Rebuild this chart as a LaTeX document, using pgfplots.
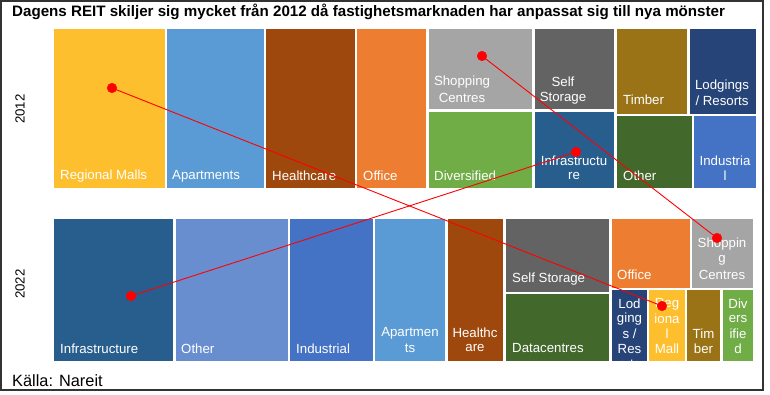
\documentclass[border=0pt]{standalone}
\usepackage{pgfplots}
\pgfplotsset{compat=1.18}
\usepackage{fontspec}
\setmainfont{Liberation Sans}
\definecolor{cGold}{HTML}{FDBF2D}
\definecolor{cApt}{HTML}{5B9BD5}
\definecolor{cHealth}{HTML}{9E480E}
\definecolor{cOffice}{HTML}{ED7D31}
\definecolor{cShop}{HTML}{A5A5A5}
\definecolor{cSelf}{HTML}{636363}
\definecolor{cDiv}{HTML}{70AD47}
\definecolor{cInfra}{HTML}{285E8E}
\definecolor{cTimber}{HTML}{997316}
\definecolor{cLodg}{HTML}{264478}
\definecolor{cOther}{HTML}{43682B}
\definecolor{cInd}{HTML}{4472C4}
\definecolor{cOther2}{HTML}{698ED0}
\newcommand{\boxr}[5]{\addplot[fill=#5,draw=none] coordinates {(#1,#2) (#3,#2) (#3,#4) (#1,#4)} -- cycle;}
\newcommand{\lab}{\fontsize{13.3}{15}\selectfont\color{white}}
\begin{document}
\begin{tikzpicture}
\begin{axis}[width=770bp, height=394bp, scale only axis, xmin=0, xmax=770, ymin=0, ymax=394,
  y dir=reverse, hide axis, clip=false]
\path (axis cs:0,0) rectangle (axis cs:770,394);
% 2012 row
\boxr{54}{29}{165}{188}{cGold}
\boxr{167}{29}{264}{188}{cApt}
\boxr{266}{29}{355}{188}{cHealth}
\boxr{357}{29}{426}{188}{cOffice}
\boxr{429}{29}{532}{109}{cShop}
\boxr{429}{112}{532}{188}{cDiv}
\boxr{535}{29}{614}{109}{cSelf}
\boxr{535}{112}{614}{188}{cInfra}
\boxr{617}{29}{687}{114}{cTimber}
\boxr{690}{29}{756}{114}{cLodg}
\boxr{617}{116}{692}{188}{cOther}
\boxr{694}{116}{756}{188}{cInd}
% 2022 row
\boxr{54}{219}{173}{361}{cInfra}
\boxr{176}{219}{288}{361}{cOther2}
\boxr{290}{219}{373}{361}{cInd}
\boxr{375}{219}{445}{361}{cApt}
\boxr{448}{219}{503}{361}{cHealth}
\boxr{506}{219}{609}{292}{cSelf}
\boxr{506}{294}{609}{361}{cOther}
\boxr{612}{219}{690}{288}{cOffice}
\boxr{692}{219}{753}{288}{cShop}
\boxr{612}{290}{647}{361}{cLodg}
\boxr{649}{290}{685}{361}{cGold}
\boxr{687}{290}{720}{361}{cTimber}
\boxr{723}{290}{753}{361}{cDiv}
% labels 2012
\node[anchor=west, inner sep=0] at (axis cs:60,176) {\lab Regional Malls};
\node[anchor=west, inner sep=0] at (axis cs:172,176) {\lab Apartments};
\node[anchor=west, inner sep=0] at (axis cs:272,176) {\lab Healthcare};
\node[anchor=west, inner sep=0] at (axis cs:363,176) {\lab Office};
\node[anchor=west, inner sep=0] at (axis cs:434,176) {\lab Diversified};
\node[anchor=west, inner sep=0] at (axis cs:623,176) {\lab Other};
\node[anchor=west, inner sep=0] at (axis cs:623,100) {\lab Timber};
\node[inner sep=0] at (axis cs:462,82) {\lab Shopping};
\node[inner sep=0] at (axis cs:462,98) {\lab Centres};
\node[inner sep=0] at (axis cs:563,82) {\lab Self};
\node[inner sep=0] at (axis cs:563,98) {\lab Storage};
\node[inner sep=0] at (axis cs:722,86) {\lab Lodgings};
\node[inner sep=0] at (axis cs:722,101) {\lab / Resorts};
\node[inner sep=0] at (axis cs:574,161) {\lab Infrastructu};
\node[inner sep=0] at (axis cs:574,176) {\lab re};
\node[inner sep=0] at (axis cs:725,161) {\lab Industria};
\node[inner sep=0] at (axis cs:725,176) {\lab l};
% labels 2022
\node[anchor=west, inner sep=0] at (axis cs:60,349) {\lab Infrastructure};
\node[anchor=west, inner sep=0] at (axis cs:181,349) {\lab Other};
\node[anchor=west, inner sep=0] at (axis cs:296,349) {\lab Industrial};
\node[anchor=west, inner sep=0] at (axis cs:512,279) {\lab Self Storage};
\node[anchor=west, inner sep=0] at (axis cs:512,348) {\lab Datacentres};
\node[anchor=west, inner sep=0] at (axis cs:617,275) {\lab Office};
\node[inner sep=0] at (axis cs:410,333) {\lab Apartmen};
\node[inner sep=0] at (axis cs:410,348) {\lab ts};
\node[inner sep=0] at (axis cs:475,333) {\lab Healthc};
\node[inner sep=0] at (axis cs:475,348) {\lab are};
\node[inner sep=0] at (axis cs:722,244) {\lab Shoppin};
\node[inner sep=0] at (axis cs:722,260) {\lab g};
\node[inner sep=0] at (axis cs:722,275) {\lab Centres};
\begin{scope}
\clip (axis cs:612,290) rectangle (axis cs:647,361);
\node[inner sep=0] at (axis cs:629.5,304) {\lab Lod};
\node[inner sep=0] at (axis cs:629.5,319) {\lab ging};
\node[inner sep=0] at (axis cs:629.5,334) {\lab s /};
\node[inner sep=0] at (axis cs:629.5,349) {\lab Res};
\node[inner sep=0] at (axis cs:629.5,364) {\lab orts};
\end{scope}
\node[inner sep=0] at (axis cs:667,304) {\lab Reg};
\node[inner sep=0] at (axis cs:667,319) {\lab iona};
\node[inner sep=0] at (axis cs:667,334) {\lab l};
\node[inner sep=0] at (axis cs:667,349) {\lab Mall};
\node[inner sep=0] at (axis cs:703.5,334) {\lab Tim};
\node[inner sep=0] at (axis cs:703.5,349) {\lab ber};
\node[inner sep=0] at (axis cs:738,304) {\lab Div};
\node[inner sep=0] at (axis cs:738,319) {\lab ers};
\node[inner sep=0] at (axis cs:738,334) {\lab ifie};
\node[inner sep=0] at (axis cs:738,349) {\lab d};
% connectors
\addplot[red, line width=0.9pt] coordinates {(112,88) (662,306)};
\addplot[red, line width=0.9pt] coordinates {(482,56) (717,238)};
\addplot[red, line width=0.9pt] coordinates {(131,296) (576,152)};
\addplot[only marks, mark=*, mark size=4.8pt, red] coordinates {(112,88) (662,306) (482,56) (717,238) (131,296) (576,152)};
% texts
\node[anchor=west, inner sep=0] at (axis cs:12,12) {\fontsize{15.2}{17}\selectfont\bfseries Dagens REIT skiljer sig mycket från 2012 då fastighetsmarknaden har anpassat sig till nya mönster};
\node[anchor=west, inner sep=0] at (axis cs:12,381) {\fontsize{16.4}{18}\selectfont Källa: Nareit};
\node[rotate=90, inner sep=0] at (axis cs:20,109) {\fontsize{13.3}{15}\selectfont 2012};
\node[rotate=90, inner sep=0] at (axis cs:20,284) {\fontsize{13.3}{15}\selectfont 2022};
\draw[black!80, line width=1.2pt] (axis cs:1,1) rectangle (axis cs:763,390);
\end{axis}
\end{tikzpicture}
\end{document}
